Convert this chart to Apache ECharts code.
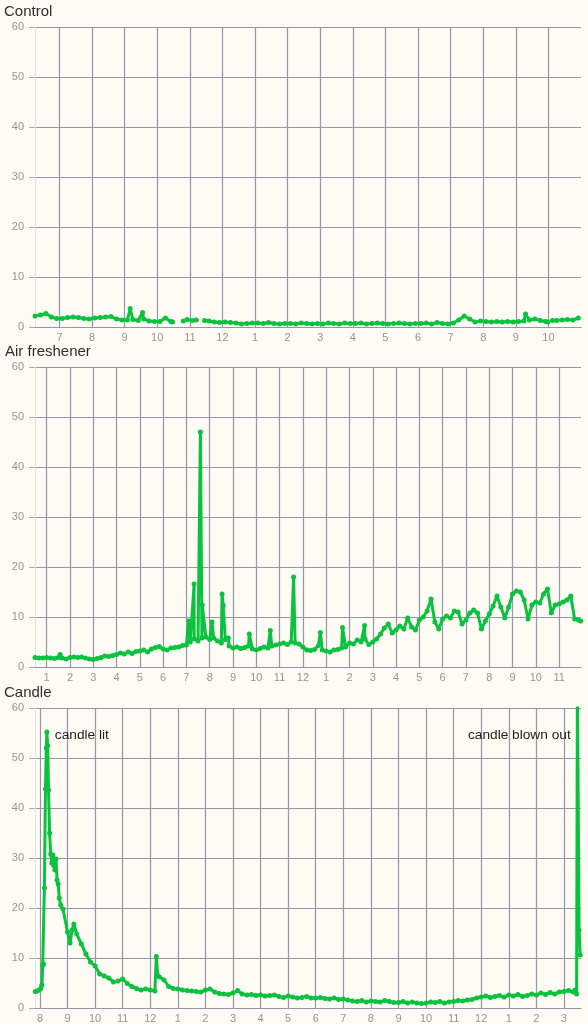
<!DOCTYPE html>
<html><head><meta charset="utf-8">
<script src="https://cdn.jsdelivr.net/npm/echarts@6/dist/echarts.min.js"></script>
<style>html,body{margin:0;padding:0;background:#fdfbf4;} #chart{width:588px;height:1024px;}</style>
</head><body><div id="chart"></div>
<script>
// ---------- DATA ----------
const panelTitles = ['Control', 'Air freshener', 'Candle'];

// Control: 10-minute samples starting 6:15
const controlStart = 6.25;
const controlValues = [
  2.2, 2.4, 2.7, 2.0, 1.7,
  1.7, 1.9, 2.0, 1.9, 1.7, 1.6,
  1.8, 1.9, 2.0, 2.1, 1.6, 1.4,
  1.4, 1.5, 1.3, 1.6, 1.2, 1.1,
  1.1, 1.8, 1.1, null, null, 1.5,
  1.3, null, null, 1.2, 1.0, 0.9,
  1.0, 0.9, 0.8, 0.6, 0.7, 0.8,
  0.8, 0.7, 0.9, 0.7, 0.6, 0.7,
  0.7, 0.6, 0.8, 0.7, 0.6, 0.7,
  0.6, 0.8, 0.7, 0.6, 0.8, 0.7,
  0.7, 0.8, 0.6, 0.7, 0.8, 0.7,
  0.6, 0.7, 0.8, 0.7, 0.6, 0.7,
  0.7, 0.8, 0.6, 0.9, 0.7, 0.6,
  0.8, 1.4, 2.2, 1.6, 1.0, 1.2,
  1.1, 1.0, 1.1, 1.0, 1.1, 1.0,
  1.1, 1.2, 1.4, 1.6, 1.3, 1.1,
  null, 1.3, 1.4, 1.5, 1.4, 1.8
];
const controlExtra = [[9.17, 3.7], [9.55, 2.9], [10.47, 1.0], [10.8, 1.2], [11.2, 1.4], [11.45, 1.3], [21.3, 2.6], [21.98, 1.0], [22.12, 1.3]];
const controlRange = [6.25, 23.0];
const controlTicks = [7, 8, 9, 10, 11, 12, 13, 14, 15, 16, 17, 18, 19, 20, 21, 22];
const controlTickLabels = ['7', '8', '9', '10', '11', '12', '1', '2', '3', '4', '5', '6', '7', '8', '9', '10'];

// Air freshener: 10-minute samples starting 0:30
const freshStart = 0.5;
const freshValues = [
  1.9, 1.8, 1.8,
  1.9, 1.8, 1.7, 1.9, 1.8, 1.6,
  1.9, 2.0, 1.9, 2.0, 1.8, 1.6,
  1.5, 1.7, 1.9, 2.2, 2.1, 2.3,
  2.5, 2.8, 2.6, 3.0, 2.7, 3.1,
  3.2, 3.4, 3.0, 3.6, 3.9, 4.1,
  3.6, 3.4, 3.8, 3.9, 4.0, 4.3,
  4.4, 5.0, 5.6, 5.2, 5.8, 6.0,
  5.5, 5.8, 5.2, 4.8, 5.5, 4.2,
  3.8, 4.0, 3.7, 3.9, 4.2, 3.6,
  3.4, 3.7, 4.0, 3.8, 4.2, 4.4,
  4.6, 4.8, 4.5, 5.0, 4.8, 4.6,
  4.0, 3.4, 3.3, 3.5, 4.3, 3.4,
  3.2, 3.0, 3.4, 3.5, 3.8, 4.0,
  4.8, 4.6, 5.4, 5.0, 5.6, 4.5,
  5.0, 5.6, 6.6, 7.8, 8.6, 6.8,
  7.4, 8.2, 7.6, 9.8, 8.0, 7.4,
  9.4, 10.0, 11.2, 13.6, 9.0, 7.6,
  9.6, 10.2, 9.8, 11.2, 11.0, 8.6,
  9.4, 10.8, 11.4, 10.8, 7.6, 9.2,
  10.6, 12.2, 14.2, 12.0, 9.8, 12.0,
  14.6, 15.2, 15.0, 13.4, 9.6, 12.4,
  13.0, 12.8, 14.6, 15.6, 10.8, 12.4,
  12.6, 13.0, 13.4, 14.2, 9.6, 9.4
];
const freshExtra = [[1.58, 2.5], [7.1, 9.2], [7.33, 16.6], [7.6, 47], [7.68, 12.4], [8.1, 9.0], [8.53, 14.6], [8.58, 12.3], [8.8, 5.8], [9.7, 6.6], [10.6, 7.3], [11.6, 18], [12.75, 6.9], [13.7, 7.9], [14.65, 8.3], [23.93, 9.2]];
const freshRange = [0.5, 23.94];
const freshTicks = [1, 2, 3, 4, 5, 6, 7, 8, 9, 10, 11, 12, 13, 14, 15, 16, 17, 18, 19, 20, 21, 22, 23];
const freshTickLabels = ['1', '2', '3', '4', '5', '6', '7', '8', '9', '10', '11', '12', '1', '2', '3', '4', '5', '6', '7', '8', '9', '10', '11'];

// Candle: 10-minute samples starting 8:50
const candleStart = 8 + 50 / 60;
const candleValues = [
  19.8,
  15.2, 15.6, 14.8, 12.8, 10.8, 9.2,
  8.4, 6.8, 6.4, 6.0, 5.2, 5.4,
  5.8, 4.9, 4.3, 3.9, 3.6, 3.8,
  3.6, 3.4, 6.2, 5.6, 4.3, 3.9,
  3.8, 3.6, 3.5, 3.4, 3.3, 3.2,
  3.6, 3.8, 3.2, 2.9, 2.8, 2.7,
  3.0, 3.5, 2.8, 2.6, 2.7, 2.5,
  2.6, 2.4, 2.5, 2.6, 2.3, 2.1,
  2.4, 2.2, 2.0, 2.1, 2.3, 2.0,
  2.0, 2.1, 1.9, 1.8, 2.0, 1.7,
  1.8, 1.6, 1.4, 1.3, 1.5, 1.2,
  1.4, 1.3, 1.2, 1.5, 1.3, 1.1,
  1.1, 1.3, 1.0, 1.2, 1.0, 0.9,
  1.0, 1.2, 1.1, 1.3, 1.0, 1.2,
  1.3, 1.5, 1.4, 1.6, 1.7, 2.0,
  2.2, 2.4, 2.1, 2.3, 2.5, 2.2,
  2.6, 2.4, 2.7, 2.3, 2.5, 2.8,
  2.6, 3.0, 2.7, 3.1, 2.8, 3.2,
  3.3, 3.5, 3.2
];
const candleExtra = [[7.83, 3.3], [7.9, 3.4], [7.97, 3.6], [8.03, 3.9], [8.07, 4.6], [8.1, 8.6], [8.13, 8.8], [8.16, 24], [8.2, 43.8], [8.23, 52], [8.25, 55.2], [8.28, 52.5], [8.31, 43.6], [8.35, 35], [8.39, 30.8], [8.43, 29], [8.47, 30.6], [8.5, 28.5], [8.54, 27.6], [8.58, 29.8], [8.62, 25.6], [8.66, 24.8], [8.7, 22], [8.75, 20.6], [9.09, 13.0], [9.23, 16.8], [12.22, 10.3], [12.27, 6.5], [27.4, 3.6], [27.46, 2.8], [27.49, 65], [27.55, 15.6], [27.59, 10.6]];
const candleRange = [7.82, 27.62];
const candleTicks = [8, 9, 10, 11, 12, 13, 14, 15, 16, 17, 18, 19, 20, 21, 22, 23, 24, 25, 26, 27];
const candleTickLabels = ['8', '9', '10', '11', '12', '1', '2', '3', '4', '5', '6', '7', '8', '9', '10', '11', '12', '1', '2', '3'];

const candleNotes = [
  { text: 'candle lit', at: [8.25, 54.6], side: 'right' },
  { text: 'candle blown out', at: [27.5, 54.6], side: 'left' }
];

const yMin = 0, yMax = 60, yStep = 10;

// ---------- BUILD ----------
function buildSeries(start, values, extra) {
  const pts = values.map((v, i) => [start + i / 6, v]);
  extra.forEach(p => pts.push(p));
  pts.sort((a, b) => a[0] - b[0]);
  return pts;
}

const GREEN = '#0ac23e';
const GRID = '#9497a8';
const FONT = '"Liberation Sans", Arial, sans-serif';

const panels = [
  { data: buildSeries(controlStart, controlValues, controlExtra), range: controlRange, ticks: controlTicks, labels: controlTickLabels, top: 27, titleTop: 4, titleLeft: 4 },
  { data: buildSeries(freshStart, freshValues, freshExtra), range: freshRange, ticks: freshTicks, labels: freshTickLabels, top: 367, titleTop: 344, titleLeft: 5 },
  { data: buildSeries(candleStart, candleValues, candleExtra), range: candleRange, ticks: candleTicks, labels: candleTickLabels, top: 708, titleTop: 685, titleLeft: 4 }
];

const option = {
  backgroundColor: '#fdfbf4',
  animation: false,
  textStyle: { fontFamily: FONT },
  title: panels.map((p, i) => ({
    text: panelTitles[i], left: p.titleLeft, top: p.titleTop, padding: 0,
    textStyle: { fontSize: 15, fontWeight: 'normal', color: '#2e2e2e', fontFamily: FONT }
  })),
  grid: panels.map(p => ({ left: 35, right: 7, top: p.top, height: 300, containLabel: false, outerBoundsMode: 'none' })),
  xAxis: panels.map((p, i) => ({
    gridIndex: i, type: 'value', min: p.range[0], max: p.range[1],
    axisLine: { show: true, onZero: false, lineStyle: { color: GRID, width: 1.2 } },
    axisTick: { show: false, customValues: p.ticks },
    axisLabel: {
      customValues: p.ticks, color: '#959595', fontSize: 11, margin: 5, fontFamily: FONT,
      formatter: v => { const k = p.ticks.findIndex(t => Math.abs(t - v) < 1e-6); return k >= 0 ? p.labels[k] : ''; }
    },
    splitLine: { show: true, lineStyle: { color: GRID, width: 1.2 } }
  })),
  yAxis: panels.map((p, i) => ({
    gridIndex: i, type: 'value', min: yMin, max: yMax, interval: yStep,
    axisLine: { show: true, lineStyle: { color: '#e4e4e4', width: 1 } },
    axisTick: { show: true, length: 6, lineStyle: { color: '#a8a8b0' } },
    axisLabel: { color: '#959595', fontSize: 11, margin: 11, fontFamily: FONT },
    splitLine: { show: true, lineStyle: { color: GRID, width: 1.2 } }
  })),
  series: panels.map((p, i) => {
    const s = {
      type: 'line', xAxisIndex: i, yAxisIndex: i, data: p.data,
      symbol: 'circle', symbolSize: 5, showSymbol: true, showAllSymbol: true,
      connectNulls: false, clip: true,
      lineStyle: { color: GREEN, width: 3 },
      itemStyle: { color: GREEN },
      emphasis: { disabled: true }
    };
    if (i === 2) {
      s.markPoint = {
        symbol: 'circle', symbolSize: 0, silent: true,
        data: candleNotes.map(n => ({
          coord: n.at,
          label: { show: true, formatter: n.text, position: n.side, distance: n.side === 'right' ? 8 : 7, color: '#222', fontSize: 13.7, fontFamily: FONT }
        }))
      };
    }
    return s;
  })
};

const chart = echarts.init(document.getElementById('chart'), null, { renderer: 'canvas', width: 588, height: 1024 });
chart.setOption(option);
</script>
</body></html>
